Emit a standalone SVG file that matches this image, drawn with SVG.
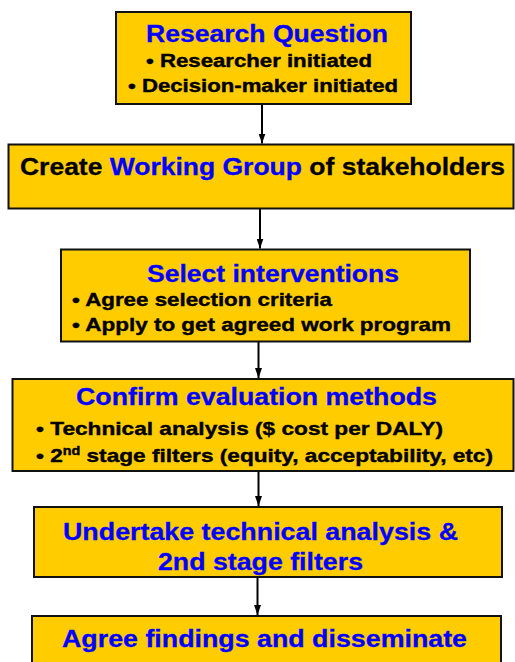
<svg xmlns="http://www.w3.org/2000/svg" width="515" height="662" viewBox="0 0 515 662">
  <defs>
    <style>
      .box { fill: #FFCC00; stroke: #111; stroke-width: 2; }
      text { font-family: "Liberation Sans", Arial, sans-serif; font-weight: bold; }
      .title { font-size: 24px; fill: #0000FF; stroke: #0000FF; stroke-width: 0.3; }
      .item { font-size: 19px; fill: #000; stroke: #000; stroke-width: 0.4; }
      .item17 { font-size: 18px; fill: #000; stroke: #000; stroke-width: 0.4; }
      .blk { fill: #000; stroke: #000; stroke-width: 0.3; }
      .blu { fill: #0000FF; stroke: #0000FF; stroke-width: 0.3; }
      .conn { stroke: #000; stroke-width: 2; fill: none; marker-end: url(#arrow); }
    </style>
    <marker id="arrow" viewBox="0 0 10 7" refX="10" refY="3.5" markerWidth="5" markerHeight="3.5" orient="auto" markerUnits="strokeWidth">
      <path d="M0,0 L10,3.5 L0,7 Z" fill="#000"/>
    </marker>
  </defs>

  <rect width="515" height="662" fill="#fff"/>

  <!-- flow connectors -->
  <g id="connectors">
    <line class="conn" x1="262" y1="104" x2="262" y2="143.5"/>
    <line class="conn" x1="260" y1="209" x2="260" y2="248.5"/>
    <line class="conn" x1="258.5" y1="342" x2="258.5" y2="378"/>
    <line class="conn" x1="258.5" y1="472" x2="258.5" y2="506"/>
    <line class="conn" x1="257.5" y1="577" x2="257.5" y2="615"/>
  </g>

  <g id="research-question">
    <rect class="box" x="116" y="12" width="295" height="92"/>
    <text class="title" x="267" y="42" text-anchor="middle" textLength="242" lengthAdjust="spacingAndGlyphs">Research Question</text>
    <text class="item17" x="259" y="67" text-anchor="middle" textLength="226" lengthAdjust="spacingAndGlyphs">• Researcher initiated</text>
    <text class="item17" x="263" y="92" text-anchor="middle" textLength="270" lengthAdjust="spacingAndGlyphs">• Decision-maker initiated</text>
  </g>

  <g id="working-group">
    <rect class="box" x="8.5" y="144.5" width="505" height="64"/>
    <text x="20" y="175" font-size="24" textLength="485" lengthAdjust="spacingAndGlyphs"><tspan class="blk">Create </tspan><tspan class="blu">Working Group</tspan><tspan class="blk"> of stakeholders</tspan></text>
  </g>

  <g id="select-interventions">
    <rect class="box" x="61" y="249.5" width="409" height="92"/>
    <text class="title" x="273" y="282" text-anchor="middle" textLength="252" lengthAdjust="spacingAndGlyphs">Select interventions</text>
    <text class="item" x="72" y="306" textLength="260" lengthAdjust="spacingAndGlyphs">• Agree selection criteria</text>
    <text class="item" x="72" y="331" textLength="379" lengthAdjust="spacingAndGlyphs">• Apply to get agreed work program</text>
  </g>

  <g id="evaluation-methods">
    <rect class="box" x="12.5" y="379" width="501" height="92"/>
    <text class="title" x="256.5" y="405" text-anchor="middle" textLength="361" lengthAdjust="spacingAndGlyphs">Confirm evaluation methods</text>
    <text class="item" x="36" y="435" textLength="407" lengthAdjust="spacingAndGlyphs">• Technical analysis ($ cost per DALY)</text>
    <text class="item" x="36" y="462" textLength="457" lengthAdjust="spacingAndGlyphs">• 2<tspan font-size="12" dy="-7">nd</tspan><tspan dy="7"> stage filters (equity, acceptability, etc)</tspan></text>
  </g>

  <g id="technical-analysis">
    <rect class="box" x="34" y="507" width="468" height="70"/>
    <text class="title" x="260.5" y="540" text-anchor="middle" textLength="395" lengthAdjust="spacingAndGlyphs">Undertake technical analysis &amp;</text>
    <text class="title" x="260.5" y="570" text-anchor="middle" textLength="205" lengthAdjust="spacingAndGlyphs">2nd stage filters</text>
  </g>

  <g id="findings">
    <rect class="box" x="32" y="616" width="469" height="60"/>
    <text class="title" x="264.5" y="647" text-anchor="middle" textLength="405" lengthAdjust="spacingAndGlyphs">Agree findings and disseminate</text>
  </g>
</svg>
